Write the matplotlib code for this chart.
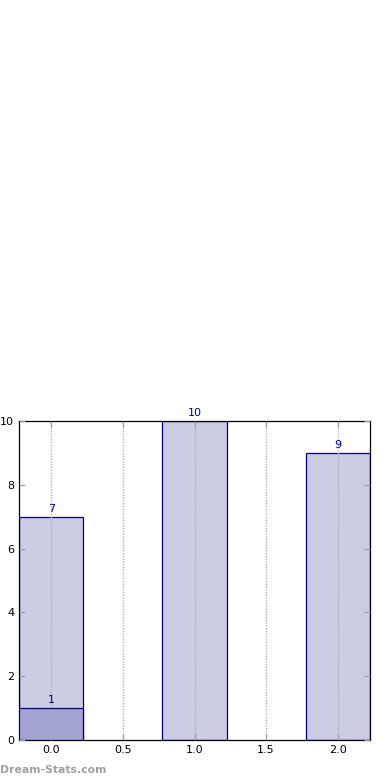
import matplotlib
matplotlib.use("Agg")
import matplotlib.pyplot as plt

positions = [0, 1, 2]
totals = [7, 10, 9]
inner_pos = [0]
inner_vals = [1]

fig = plt.figure(figsize=(3.9, 7.8), dpi=100)
ax = fig.add_axes([19/390, 1-740/780, 351/390, 319/780])

ax.bar(positions, totals, width=0.45, color="#ccccE4", edgecolor="#000080", linewidth=0.9, zorder=2)
ax.bar(inner_pos, inner_vals, width=0.45, color="#a3a3cf", edgecolor="#000080", linewidth=0.9, zorder=3)

for x, v in zip(positions, totals):
    ax.text(x, v + 0.1, str(v), ha="center", va="bottom", color="#000080", fontsize=8, zorder=5)
for x, v in zip(inner_pos, inner_vals):
    ax.text(x, v + 0.1, str(v), ha="center", va="bottom", color="#000080", fontsize=8, zorder=5)

ax.set_xlim(-0.225, 2.225)
ax.set_ylim(0, 10)
ax.set_xticks([0, 0.5, 1.0, 1.5, 2.0])
ax.set_xticklabels(["0.0", "0.5", "1.0", "1.5", "2.0"])
ax.set_yticks([0, 2, 4, 6, 8, 10])
ax.tick_params(direction="in", length=4, colors="#999999", labelcolor="black", labelsize=8,
               top=True, right=True)
ax.xaxis.grid(True, linestyle=(0, (1, 1)), color="#b0b0b0", linewidth=1.0, zorder=4)
ax.set_axisbelow(False)
for s in ax.spines.values():
    s.set_color("black")
    s.set_linewidth(0.9)

fig.text(0.0, 1-770/780, "Dream-Stats.com", color="#a0a0a0", fontsize=7.8, fontweight="bold",
         ha="left", va="center")

fig.savefig("out.png", dpi=100)
